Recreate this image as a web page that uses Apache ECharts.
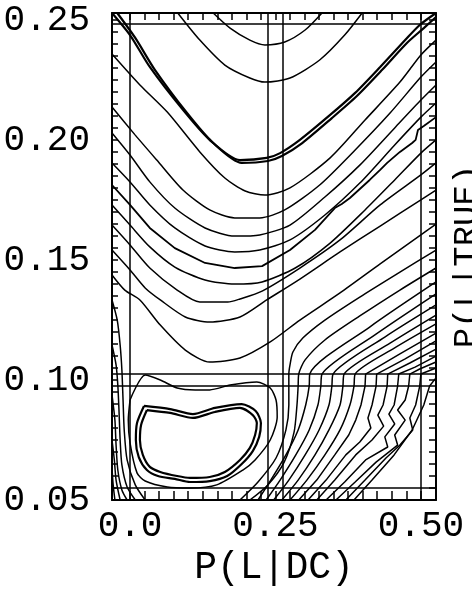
<!DOCTYPE html>
<html>
<head>
<meta charset="utf-8">
<script src="https://cdn.jsdelivr.net/npm/echarts@6/dist/echarts.min.js"></script>
<style>
  html, body { margin: 0; padding: 0; background: #fff; }
  #chart { width: 472px; height: 611px; }
</style>
</head>
<body>
<div id="chart"></div>
<script>
// Axis ranges and tick positions
const xRange = [-0.031, 0.526];
const yRange = [0.05, 0.253];
const xLabelValues = [0, 0.25, 0.5];
const xLabelTexts = ['0.0', '0.25', '0.50'];
const yLabelValues = [0.05, 0.10, 0.15, 0.20, 0.25];
const yLabelTexts = ['0.05', '0.10', '0.15', '0.20', '0.25'];
const xTicks = [0, 0.025, 0.05, 0.075, 0.1, 0.125, 0.15, 0.175, 0.2, 0.225, 0.25,
  0.275, 0.3, 0.325, 0.35, 0.375, 0.4, 0.425, 0.45, 0.475, 0.5];
const yTicks = [0.05, 0.055, 0.06, 0.065, 0.07, 0.075, 0.08, 0.085, 0.09, 0.095, 0.1,
  0.105, 0.11, 0.115, 0.12, 0.125, 0.13, 0.135, 0.14, 0.145, 0.15, 0.155, 0.16, 0.165,
  0.17, 0.175, 0.18, 0.185, 0.19, 0.195, 0.2, 0.205, 0.21, 0.215, 0.22, 0.225, 0.23,
  0.235, 0.24, 0.245, 0.25];

// Reference lines: inner box and the cross through the estimate
const boxX = [0, 0.5];
const boxY = [0.055, 0.2484];
const crossX = [0.236, 0.263];
const crossY = [0.0975, 0.1025];

// Contour levels of the upper bowl, [P(L|DC), P(L|TRUE)]
const contourA = [[0.143,0.2530],[0.172,0.2467],[0.206,0.2417],[0.232,0.2397],[0.266,0.2409],[0.301,0.2459],[0.330,0.2530]];
const contourB = [[0.082,0.2530],[0.120,0.2417],[0.163,0.2313],[0.206,0.2259],[0.232,0.2242],[0.275,0.2259],[0.326,0.2334],[0.369,0.2438],[0.399,0.2530]];
const contourC = [[-0.031,0.2530],[0,0.2438],[0.034,0.2305],[0.091,0.2126],[0.137,0.2001],[0.189,0.1917],[0.235,0.1926],[0.258,0.1946],[0.292,0.2001],[0.344,0.2105],[0.387,0.2197],[0.430,0.2305],[0.473,0.2417],[0.498,0.2480],[0.526,0.2530]];
const contourC2 = [[-0.022,0.2530],[0.009,0.2426],[0.043,0.2292],[0.098,0.2113],[0.143,0.1988],[0.192,0.1905],[0.237,0.1913],[0.261,0.1934],[0.296,0.1988],[0.347,0.2092],[0.390,0.2184],[0.433,0.2292],[0.476,0.2405],[0.505,0.2467],[0.526,0.2513]];
const contourD = [[-0.031,0.2359],[0.017,0.2230],[0.064,0.2117],[0.120,0.1951],[0.163,0.1842],[0.198,0.1788],[0.232,0.1771],[0.275,0.1801],[0.344,0.1926],[0.404,0.2084],[0.464,0.2242],[0.500,0.2355],[0.526,0.2417]];
const contourE = [[-0.031,0.2138],[0.009,0.2021],[0.046,0.1917],[0.091,0.1792],[0.137,0.1709],[0.180,0.1676],[0.223,0.1676],[0.266,0.1709],[0.326,0.1813],[0.387,0.1959],[0.447,0.2113],[0.500,0.2263],[0.526,0.2326]];
const contourF = [[-0.031,0.2030],[0,0.1938],[0.034,0.1826],[0.077,0.1717],[0.129,0.1634],[0.180,0.1600],[0.223,0.1605],[0.275,0.1646],[0.335,0.1763],[0.395,0.1896],[0.455,0.2051],[0.500,0.2167],[0.526,0.2230]];
const contourG = [[-0.031,0.1905],[0,0.1826],[0.034,0.1730],[0.077,0.1634],[0.129,0.1559],[0.180,0.1534],[0.223,0.1542],[0.275,0.1584],[0.335,0.1688],[0.395,0.1821],[0.455,0.1980],[0.500,0.2096],[0.526,0.2155]];
const contourH = [[-0.031,0.1813],[0,0.1730],[0.034,0.1634],[0.077,0.1550],[0.129,0.1488],[0.180,0.1467],[0.227,0.1475],[0.275,0.1542],[0.318,0.1626],[0.352,0.1717],[0.364,0.1734],[0.378,0.1759],[0.412,0.1834],[0.430,0.1876],[0.442,0.1905],[0.464,0.1951],[0.485,0.1988],[0.491,0.2001],[0.495,0.2042],[0.505,0.2059],[0.526,0.2096]];
const contourI = [[-0.031,0.1730],[0,0.1646],[0.034,0.1555],[0.077,0.1471],[0.129,0.1417],[0.180,0.1400],[0.227,0.1409],[0.284,0.1467],[0.344,0.1571],[0.404,0.1709],[0.455,0.1834],[0.500,0.1946],[0.526,0.2001]];
const contourJ = [[-0.031,0.1646],[0,0.1563],[0.034,0.1467],[0.081,0.1375],[0.120,0.1325],[0.168,0.1325],[0.189,0.1338],[0.227,0.1371],[0.292,0.1467],[0.361,0.1584],[0.430,0.1730],[0.500,0.1855],[0.526,0.1905]];
const contourK = [[-0.031,0.1542],[0,0.1459],[0.026,0.1384],[0.052,0.1334],[0.095,0.1263],[0.137,0.1242],[0.189,0.1263],[0.235,0.1334],[0.292,0.1421],[0.361,0.1534],[0.430,0.1642],[0.500,0.1751],[0.526,0.1792]];
const contourL = [[-0.031,0.1438],[-0.009,0.1375],[0.017,0.1334],[0.052,0.1229],[0.095,0.1125],[0.137,0.1075],[0.189,0.1092],[0.241,0.1159],[0.292,0.1250],[0.361,0.1363],[0.430,0.1484],[0.500,0.1605],[0.526,0.1650]];

// Contours that bend down towards the lower edge
const contourM = [[0.526,0.1542],[0.464,0.1450],[0.395,0.1346],[0.335,0.1250],[0.297,0.1175],[0.280,0.1117],[0.275,0.1063],[0.273,0.1025],[0.273,0.0975],[0.273,0.0896],[0.268,0.0792],[0.251,0.0675],[0.220,0.0575],[0.189,0.0500]];
const contourN = [[0.526,0.1467],[0.464,0.1375],[0.395,0.1267],[0.335,0.1167],[0.301,0.1084],[0.290,0.1025],[0.289,0.0975],[0.287,0.0896],[0.282,0.0783],[0.265,0.0658],[0.237,0.0563],[0.206,0.0500]];
const ridge1 = [[0.526,0.1409],[0.412,0.1221],[0.309,0.1025],[0.308,0.0975],[0.302,0.0896],[0.289,0.0792],[0.268,0.0688],[0.242,0.0583],[0.220,0.0500]];
const ridge2 = [[0.526,0.1359],[0.421,0.1188],[0.330,0.1025],[0.328,0.0975],[0.323,0.0896],[0.308,0.0792],[0.285,0.0688],[0.258,0.0583],[0.234,0.0500]];
const ridge3 = [[0.526,0.1313],[0.438,0.1179],[0.349,0.1025],[0.347,0.0975],[0.342,0.0896],[0.325,0.0792],[0.301,0.0688],[0.273,0.0583],[0.247,0.0500]];
const ridge4 = [[0.526,0.1271],[0.447,0.1154],[0.368,0.1025],[0.366,0.0975],[0.361,0.0896],[0.342,0.0792],[0.318,0.0688],[0.289,0.0583],[0.261,0.0500]];
const ridge5 = [[0.526,0.1234],[0.455,0.1134],[0.387,0.1025],[0.385,0.0975],[0.378,0.0896],[0.361,0.0792],[0.335,0.0688],[0.304,0.0583],[0.275,0.0500]];
const ridge6 = [[0.526,0.1196],[0.464,0.1109],[0.405,0.1025],[0.404,0.0975],[0.397,0.0896],[0.388,0.0833],[0.376,0.0771],[0.352,0.0688],[0.321,0.0583],[0.290,0.0500]];
const ridge7 = [[0.526,0.1163],[0.473,0.1088],[0.424,0.1025],[0.423,0.0975],[0.416,0.0896],[0.409,0.0842],[0.414,0.0800],[0.395,0.0742],[0.371,0.0688],[0.337,0.0583],[0.306,0.0500]];
const ridge8 = [[0.526,0.1129],[0.481,0.1071],[0.443,0.1025],[0.442,0.0975],[0.435,0.0896],[0.426,0.0854],[0.436,0.0808],[0.416,0.0750],[0.388,0.0688],[0.352,0.0583],[0.321,0.0500]];
const ridge9 = [[0.526,0.1100],[0.490,0.1054],[0.462,0.1025],[0.460,0.0975],[0.454,0.0896],[0.445,0.0858],[0.455,0.0817],[0.438,0.0763],[0.443,0.0721],[0.405,0.0667],[0.369,0.0575],[0.337,0.0500]];
const ridge10 = [[0.526,0.1075],[0.498,0.1046],[0.481,0.1025],[0.479,0.0975],[0.473,0.0917],[0.460,0.0875],[0.473,0.0833],[0.455,0.0771],[0.460,0.0729],[0.423,0.0658],[0.387,0.0575],[0.354,0.0500]];
const ridge11 = [[0.526,0.1050],[0.500,0.1025],[0.498,0.0975],[0.491,0.0896],[0.481,0.0842],[0.486,0.0792],[0.464,0.0729],[0.440,0.0675],[0.404,0.0583],[0.371,0.0500]];
const ridge12 = [[0.526,0.1009],[0.515,0.0975],[0.505,0.0896],[0.485,0.0792],[0.454,0.0688],[0.416,0.0583],[0.385,0.0500]];

// Closed contours around the lower-left maximum
const ringOuter = [[0,0.0917],[0.026,0.1021],[0.052,0.1000],[0.081,0.0967],[0.112,0.0959],[0.137,0.0959],[0.172,0.0979],[0.218,0.0992],[0.241,0.0967],[0.251,0.0917],[0.253,0.0846],[0.241,0.0750],[0.215,0.0667],[0.194,0.0625],[0.149,0.0563],[0.103,0.0550],[0.064,0.0554],[0.026,0.0579],[0.012,0.0613],[0,0.0738],[-0.003,0.0833],[0,0.0917]];
const peakOuter = [[0.024,0.0892],[0.069,0.0879],[0.108,0.0858],[0.146,0.0884],[0.192,0.0900],[0.216,0.0871],[0.225,0.0821],[0.222,0.0763],[0.211,0.0704],[0.192,0.0650],[0.167,0.0600],[0.137,0.0579],[0.103,0.0575],[0.077,0.0588],[0.048,0.0600],[0.029,0.0625],[0.015,0.0679],[0.010,0.0750],[0.012,0.0821],[0.024,0.0892]];
const peakInner = [[0.029,0.0875],[0.069,0.0863],[0.108,0.0842],[0.146,0.0867],[0.189,0.0884],[0.211,0.0854],[0.218,0.0821],[0.215,0.0771],[0.206,0.0717],[0.189,0.0667],[0.163,0.0617],[0.137,0.0596],[0.103,0.0592],[0.081,0.0600],[0.052,0.0617],[0.034,0.0638],[0.022,0.0688],[0.017,0.0750],[0.019,0.0813],[0.029,0.0875]];

// Contours crowding into the lower-left corner
const cornerA = [[-0.031,0.1334],[-0.022,0.1250],[-0.017,0.1146],[-0.014,0.1042],[-0.012,0.0917],[-0.010,0.0792],[-0.005,0.0667],[0.009,0.0563],[0.026,0.0500]];
const cornerB = [[-0.031,0.1146],[-0.024,0.1063],[-0.021,0.0979],[-0.019,0.0875],[-0.017,0.0750],[-0.014,0.0646],[-0.005,0.0554],[0.009,0.0500]];
const cornerC = [[-0.031,0.0938],[-0.026,0.0833],[-0.024,0.0729],[-0.021,0.0625],[-0.014,0.0542],[-0.005,0.0500]];
const cornerD = [[-0.031,0.0750],[-0.027,0.0667],[-0.024,0.0583],[-0.017,0.0500]];
const cornerE = [[-0.031,0.0633],[-0.029,0.0563],[-0.026,0.0500]];

const smoothContours = [contourA, contourB, contourC, contourC2, contourD, contourE, contourF,
  contourG, contourI, contourJ, contourK, contourL, contourM, contourN,
  ridge1, ridge2, ridge3, ridge4, ridge5, ringOuter, peakOuter, peakInner,
  cornerA, cornerB, cornerC, cornerD, cornerE];
const jaggedContours = [contourH, ridge6, ridge7, ridge8, ridge9, ridge10, ridge11, ridge12];

const ink = '#000';
const labelFont = 'Liberation Mono';

function contourSeries(data, smooth, width) {
  return {
    type: 'line',
    data: data,
    showSymbol: false,
    smooth: smooth,
    silent: true,
    lineStyle: { color: ink, width: width },
    xAxisIndex: 0,
    yAxisIndex: 0
  };
}

const series = [];
smoothContours.forEach(function (c) {
  const heavy = (c === contourC || c === contourC2 || c === peakOuter || c === peakInner);
  series.push(contourSeries(c, 0.25, heavy ? 2.2 : 1.5));
});
jaggedContours.forEach(function (c) {
  series.push(contourSeries(c, false, c === contourH ? 1.8 : 1.5));
});

const refLines = [];
boxX.concat(crossX).forEach(function (v) { refLines.push({ xAxis: v }); });
boxY.concat(crossY).forEach(function (v) { refLines.push({ yAxis: v }); });
series.push({
  type: 'line',
  data: [],
  silent: true,
  markLine: {
    silent: true,
    precision: 5,
    symbol: ['none', 'none'],
    label: { show: false },
    lineStyle: { color: ink, width: 1.5, type: 'solid' },
    data: refLines
  }
});

const chart = echarts.init(document.getElementById('chart'), null, { renderer: 'canvas' });
chart.setOption({
  animation: false,
  backgroundColor: '#fff',
  grid: { left: 112, right: 36, top: 13, bottom: 111, containLabel: false, outerBoundsMode: 'none' },
  xAxis: [
    {
      type: 'value', position: 'bottom', min: xRange[0], max: xRange[1],
      name: 'P(L|DC)', nameLocation: 'middle', nameGap: 48,
      nameTextStyle: { fontFamily: labelFont, fontSize: 38, color: ink },
      axisLine: { show: true, onZero: false, lineStyle: { color: ink, width: 2 } },
      axisTick: { show: true, inside: true, length: 9, customValues: xTicks, lineStyle: { color: ink, width: 1.5 } },
      axisLabel: {
        show: true, margin: 8, customValues: xLabelValues,
        fontFamily: labelFont, fontSize: 36, color: ink,
        formatter: function (v) { return xLabelTexts[xLabelValues.indexOf(v)]; }
      },
      splitLine: { show: false }
    },
    {
      type: 'value', position: 'top', min: xRange[0], max: xRange[1],
      axisLine: { show: true, onZero: false, lineStyle: { color: ink, width: 2 } },
      axisTick: { show: true, inside: true, length: 7, customValues: xTicks, lineStyle: { color: ink, width: 1.5 } },
      axisLabel: { show: false },
      splitLine: { show: false }
    }
  ],
  yAxis: [
    {
      type: 'value', position: 'left', min: yRange[0], max: yRange[1],
      axisLine: { show: true, onZero: false, lineStyle: { color: ink, width: 2 } },
      axisTick: { show: true, inside: true, length: 6, customValues: yTicks, lineStyle: { color: ink, width: 1.5 } },
      axisLabel: {
        show: true, margin: 22, customValues: yLabelValues,
        fontFamily: labelFont, fontSize: 36, color: ink,
        formatter: function (v) {
          for (let i = 0; i < yLabelValues.length; i++) {
            if (Math.abs(yLabelValues[i] - v) < 1e-9) return yLabelTexts[i];
          }
          return '';
        }
      },
      splitLine: { show: false }
    },
    {
      type: 'value', position: 'right', min: yRange[0], max: yRange[1],
      name: 'P(L|TRUE)', nameLocation: 'middle', nameGap: 14, nameRotate: 90,
      nameTextStyle: { fontFamily: labelFont, fontSize: 34, color: ink },
      axisLine: { show: true, onZero: false, lineStyle: { color: ink, width: 2 } },
      axisTick: { show: true, inside: true, length: 7, customValues: yTicks, lineStyle: { color: ink, width: 1.5 } },
      axisLabel: { show: false },
      splitLine: { show: false }
    }
  ],
  series: series
});
</script>
</body>
</html>
